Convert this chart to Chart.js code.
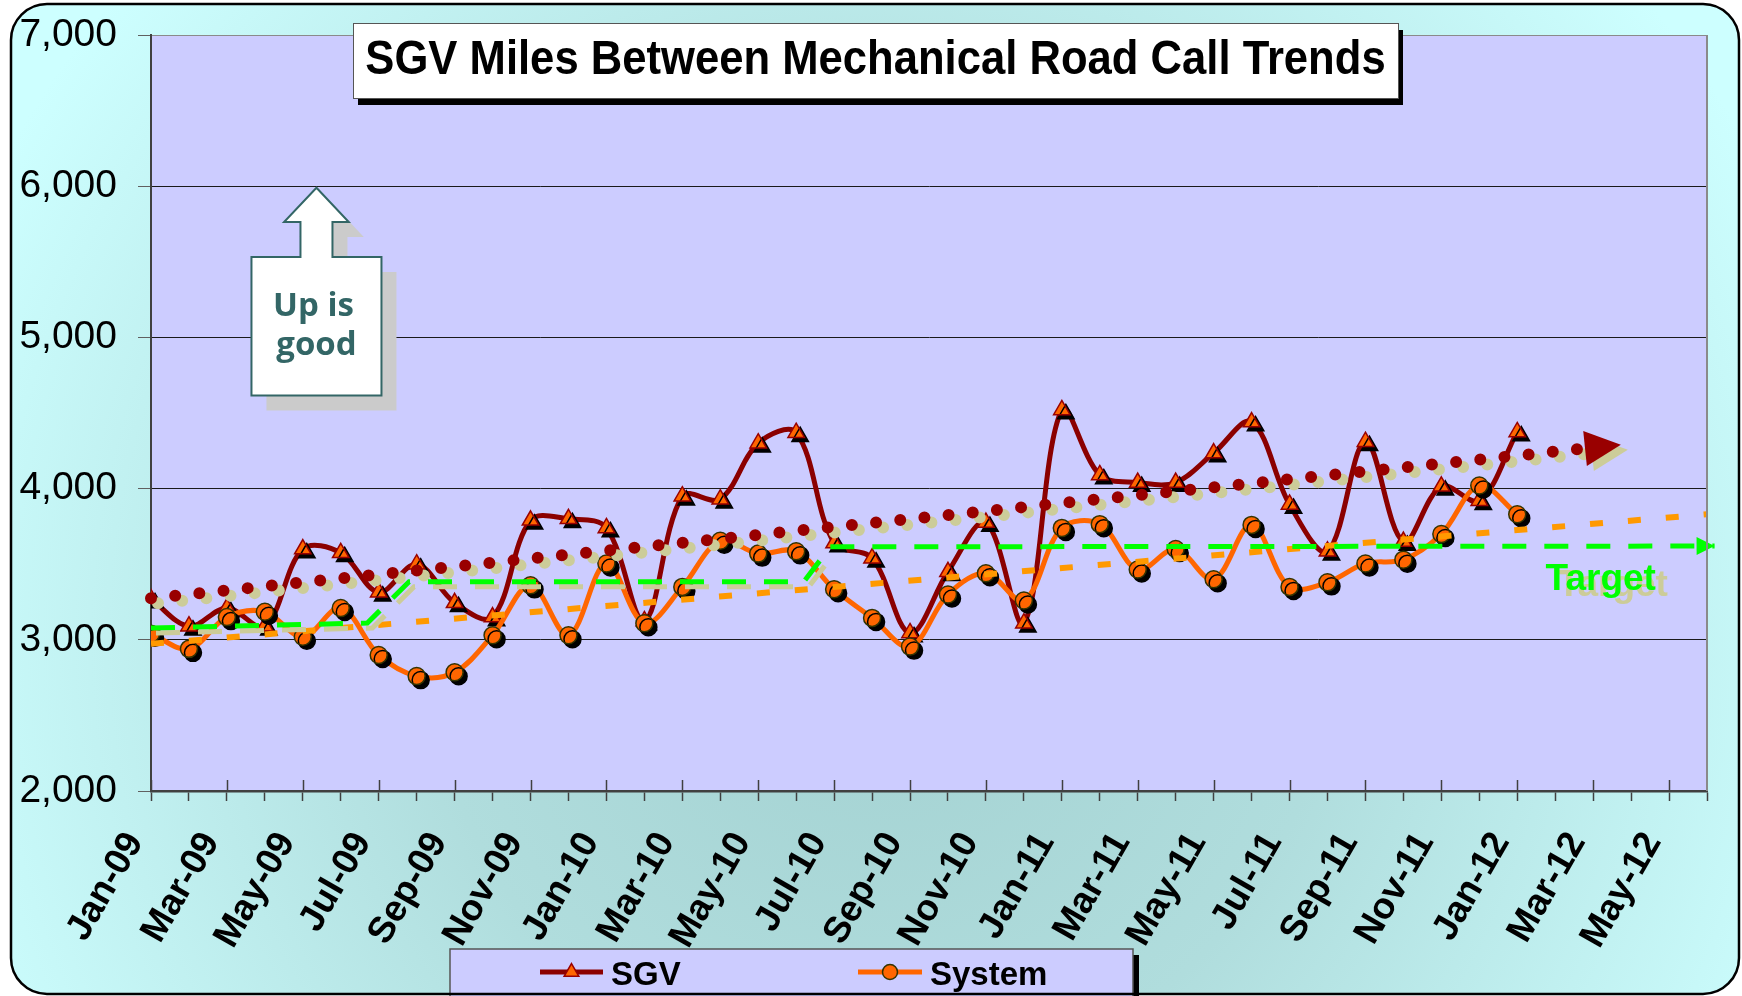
<!DOCTYPE html>
<html>
<head>
<meta charset="utf-8">
<title>SGV Miles Between Mechanical Road Call Trends</title>
<script src="https://cdn.jsdelivr.net/npm/chart.js@4.4.1/dist/chart.umd.min.js"></script>
<style>
html, body { margin: 0; padding: 0; background: #ffffff; }
#wrap { width: 1742px; height: 996px; }
</style>
</head>
<body>
<div id="wrap"><canvas id="lineChart" width="1742" height="996"></canvas></div>
<script>
// month categories on the x axis (one tick per month, label on every other one)
var months = ['Jan-09', 'Feb-09', 'Mar-09', 'Apr-09', 'May-09', 'Jun-09', 'Jul-09', 'Aug-09', 'Sep-09', 'Oct-09', 'Nov-09', 'Dec-09',
	'Jan-10', 'Feb-10', 'Mar-10', 'Apr-10', 'May-10', 'Jun-10', 'Jul-10', 'Aug-10', 'Sep-10', 'Oct-10', 'Nov-10', 'Dec-10',
	'Jan-11', 'Feb-11', 'Mar-11', 'Apr-11', 'May-11', 'Jun-11', 'Jul-11', 'Aug-11', 'Sep-11', 'Oct-11', 'Nov-11', 'Dec-11',
	'Jan-12', 'Feb-12', 'Mar-12', 'Apr-12', 'May-12', 'Jun-12'];

// monthly miles between mechanical road calls, Jan-09 .. Jan-12
var sgvValues = [3270, 3090, 3210, 3090, 3600, 3575, 3315, 3500, 3245, 3150, 3790, 3800,
	3740, 3125, 3950, 3930, 4300, 4370, 3640, 3540, 3045, 3450, 3775, 3110,
	4520, 4090, 4040, 4040, 4235, 4440, 3895, 3585, 4310, 3650, 4015, 3920,
	4375];
var systemValues = [3040, 2940, 3150, 3185, 3020, 3210, 2900, 2760, 2785, 3030, 3360, 3030,
	3505, 3110, 3350, 3655, 3570, 3585, 3335, 3145, 2955, 3300, 3440, 3260,
	3740, 3765, 3465, 3600, 3400, 3760, 3350, 3380, 3505, 3530, 3700, 4020,
	3830];

// trend lines (x = month index)
var sgvTrendX = [0, 38.73];
var sgvTrendY = [3275, 4290];
var systemTrendX = [0, 41];
var systemTrendY = [2973, 3830];

// target steps
var targetX = [0, 5.7, 6.8, 17.2, 17.9];
var targetY = [3078, 3111, 3384, 3384, 3615];
var targetEndX = [17.9, 41.2];
var targetEndY = [3615, 3620];

var yMin = 2000, yMax = 7000, yStep = 1000;

var FONT = '"Liberation Sans", Arial, Helvetica, sans-serif';
Chart.defaults.font.family = FONT;

function toPoints(xs, ys) {
	return ys.map(function(v, i) {
		return { x: xs ? xs[i] : i, y: v };
	});
}

function roundRectPath(c, x, y, w, h, r) {
	c.beginPath();
	c.moveTo(x + r, y);
	c.lineTo(x + w - r, y);
	c.arcTo(x + w, y, x + w, y + r, r);
	c.lineTo(x + w, y + h - r);
	c.arcTo(x + w, y + h, x + w - r, y + h, r);
	c.lineTo(x + r, y + h);
	c.arcTo(x, y + h, x, y + h - r, r);
	c.lineTo(x, y + r);
	c.arcTo(x, y, x + r, y, r);
	c.closePath();
}

// slide background + plot area fill
var bgPlugin = {
	id : 'slideBackground',
	beforeDraw : function(chart) {
		var c = chart.ctx, a = chart.chartArea;
		c.save();
		c.fillStyle = '#ffffff';
		c.fillRect(0, 0, chart.width, chart.height);
		var g = c.createRadialGradient(880, 640, 0, 880, 640, 1000);
		g.addColorStop(0, '#a3d1d1');
		g.addColorStop(0.45, '#b0dddd');
		g.addColorStop(1, '#cdffff');
		roundRectPath(c, 11, 4, 1728, 990, 36);
		c.fillStyle = g;
		c.fill();
		c.fillStyle = '#ccccff';
		c.fillRect(a.left, a.top, a.right - a.left, a.bottom - a.top);
		c.restore();
	}
};

// hard shadows and arrow heads for datasets that ask for them
var shadowPlugin = {
	id : 'shadows',
	beforeDatasetDraw : function(chart, args) {
		var ds = chart.data.datasets[args.index];
		if (!ds.shadow) return;
		var c = chart.ctx;
		c.save();
		c.shadowColor = ds.shadow.color;
		c.shadowOffsetX = ds.shadow.x;
		c.shadowOffsetY = ds.shadow.y;
		c.shadowBlur = 0;
	},
	afterDatasetDraw : function(chart, args) {
		var ds = chart.data.datasets[args.index];
		var c = chart.ctx;
		if (ds.arrow) {
			var pts = chart.getDatasetMeta(args.index).data;
			var p1 = pts[pts.length - 2], p2 = pts[pts.length - 1];
			var ang = Math.atan2(p2.y - p1.y, p2.x - p1.x);
			var L = ds.arrow.length, W = ds.arrow.width / 2;
			var bx = p2.x - L * Math.cos(ang), by = p2.y - L * Math.sin(ang);
			c.beginPath();
			c.moveTo(p2.x, p2.y);
			c.lineTo(bx - W * Math.sin(ang), by + W * Math.cos(ang));
			c.lineTo(bx + W * Math.sin(ang), by - W * Math.cos(ang));
			c.closePath();
			c.fillStyle = ds.borderColor;
			c.fill();
		}
		if (ds.shadow) c.restore();
	}
};

// title box, "Up is good" callout, Target label, legend, slide border
var decoPlugin = {
	id : 'decorations',
	afterDraw : function(chart) {
		var c = chart.ctx, a = chart.chartArea;
		var xs = chart.scales.x, ys = chart.scales.y;
		c.save();

		// plot right edge
		c.strokeStyle = '#8a8a8a';
		c.lineWidth = 2;
		c.beginPath();
		c.moveTo(a.right, a.top);
		c.lineTo(a.right, a.bottom);
		c.stroke();

		// labelled months get a tick that also rises above the axis
		c.strokeStyle = '#404040';
		c.lineWidth = 1.5;
		c.beginPath();
		for (var i = 0; i < months.length; i += 2) {
			var px = Math.round(xs.getPixelForValue(i)) + 0.5;
			c.moveTo(px, a.bottom - 11);
			c.lineTo(px, a.bottom);
		}
		c.stroke();

		// title box
		var tb = { x : 353, y : 23, w : 1045, h : 75 };
		c.fillStyle = '#000000';
		c.fillRect(tb.x + 5, tb.y + 7, tb.w, tb.h);
		c.fillStyle = '#ffffff';
		c.fillRect(tb.x, tb.y, tb.w, tb.h);
		c.strokeStyle = '#555555';
		c.lineWidth = 1;
		c.strokeRect(tb.x + 0.5, tb.y + 0.5, tb.w, tb.h);
		c.save();
		c.translate(tb.x + tb.w / 2, 74);
		c.scale(0.89, 1);
		c.fillStyle = '#000000';
		c.font = 'bold 49px ' + FONT;
		c.textAlign = 'center';
		c.textBaseline = 'alphabetic';
		c.fillText('SGV Miles Between Mechanical Road Call Trends', 0, 0);
		c.restore();

		// "Up is good" callout
		var tx = xs.getPixelForValue(4.36), ty = ys.getPixelForValue(5990);
		var shape = [[0, 0], [32.3, 34.4], [16, 34.4], [16, 69.4], [65, 69.4], [65, 207.7],
			[-65, 207.7], [-65, 69.4], [-16, 69.4], [-16, 34.4], [-32.4, 34.4]];
		function calloutPath(dx, dy) {
			c.beginPath();
			shape.forEach(function(p, i) {
				if (i === 0) c.moveTo(tx + p[0] + dx, ty + p[1] + dy);
				else c.lineTo(tx + p[0] + dx, ty + p[1] + dy);
			});
			c.closePath();
		}
		calloutPath(15, 15);
		c.fillStyle = '#cbcbcb';
		c.fill();
		calloutPath(0, 0);
		c.fillStyle = '#ffffff';
		c.fill();
		c.strokeStyle = '#336666';
		c.lineWidth = 2;
		c.stroke();
		c.fillStyle = '#336666';
		c.font = 'bold 33px "Open Sans", "DejaVu Sans", sans-serif';
		c.textAlign = 'center';
		c.fillText('Up is', tx - 3, ty + 128);
		c.fillText('good', tx, ty + 167);

		// Target label
		var lx = xs.getPixelForValue(38.2), ly = ys.getPixelForValue(3330);
		c.font = 'bold 37px ' + FONT;
		c.textAlign = 'center';
		c.fillStyle = '#cccc99';
		c.fillText('Target', lx + 12, ly + 6);
		c.fillStyle = '#00ff00';
		c.fillText('Target', lx, ly);

		// legend
		var lg = { x : 450, y : 949, w : 683, h : 50 };
		c.fillStyle = '#000000';
		c.fillRect(lg.x + lg.w, lg.y + 6, 6, lg.h);
		c.fillStyle = '#ccccff';
		c.fillRect(lg.x, lg.y, lg.w, lg.h);
		c.strokeStyle = '#555555';
		c.lineWidth = 1.5;
		c.strokeRect(lg.x, lg.y, lg.w, lg.h);
		var items = [
			{ line : chart.data.datasets[0], pts : chart.data.datasets[1], x0 : 540, x1 : 603, tx : 611 },
			{ line : chart.data.datasets[2], pts : chart.data.datasets[3], x0 : 858, x1 : 922, tx : 930 }
		];
		items.forEach(function(it) {
			var my = 972;
			c.strokeStyle = it.line.borderColor;
			c.lineWidth = 5;
			c.lineCap = 'butt';
			c.beginPath();
			c.moveTo(it.x0, my);
			c.lineTo(it.x1, my);
			c.stroke();
			c.fillStyle = it.pts.pointBackgroundColor;
			c.strokeStyle = it.pts.pointBorderColor;
			c.lineWidth = it.pts.pointBorderWidth;
			Chart.helpers.drawPoint(c, {
				pointStyle : it.pts.pointStyle,
				radius : it.pts.pointRadius - 1,
				borderWidth : it.pts.pointBorderWidth,
				rotation : 0
			}, (it.x0 + it.x1) / 2, my);
			c.fillStyle = '#000000';
			c.font = 'bold 33px ' + FONT;
			c.textAlign = 'left';
			c.fillText(it.line.label, it.tx, 985);
		});

		// slide border
		roundRectPath(c, 11, 4, 1728, 990, 36);
		c.strokeStyle = '#000000';
		c.lineWidth = 2.5;
		c.stroke();
		c.restore();
	}
};

var ctx = document.getElementById('lineChart');
var lineChart = new Chart(ctx, {
	type : 'line',
	data : {
		datasets : [ {
			label : 'SGV',
			data : toPoints(null, sgvValues),
			borderColor : '#8b0000',
			borderWidth : 5,
			tension : 0.35,
			pointRadius : 0,
			order : 6
		}, {
			label : 'SGV markers',
			data : toPoints(null, sgvValues),
			showLine : false,
			pointStyle : 'triangle',
			pointRadius : 9.5,
			pointBackgroundColor : '#ff6600',
			pointBorderColor : '#990000',
			pointBorderWidth : 1.5,
			shadow : { color : '#000000', x : 4, y : 4 },
			order : 5
		}, {
			label : 'System',
			data : toPoints(null, systemValues),
			borderColor : '#ff6600',
			borderWidth : 5,
			tension : 0.35,
			pointRadius : 0,
			order : 4
		}, {
			label : 'System markers',
			data : toPoints(null, systemValues),
			showLine : false,
			pointStyle : 'circle',
			pointRadius : 8.5,
			pointBackgroundColor : '#ff6600',
			pointBorderColor : '#333300',
			pointBorderWidth : 1.5,
			shadow : { color : '#000000', x : 4, y : 4 },
			order : 3
		}, {
			label : 'System trend',
			data : toPoints(systemTrendX, systemTrendY),
			borderColor : '#ff9900',
			borderWidth : 6,
			borderDash : [ 13, 25 ],
			pointRadius : 0,
			tension : 0,
			order : 2
		}, {
			label : 'SGV trend',
			data : toPoints(sgvTrendX, sgvTrendY),
			borderColor : '#990000',
			borderWidth : 12,
			borderDash : [ 0, 24.3 ],
			borderCapStyle : 'round',
			pointRadius : 0,
			tension : 0,
			clip : false,
			shadow : { color : '#cccc99', x : 7, y : 5 },
			arrow : { length : 36, width : 35 },
			order : 1
		}, {
			label : 'Target',
			data : toPoints(targetX, targetY),
			borderColor : '#00ff00',
			borderWidth : 5,
			borderDash : [ 24, 18 ],
			pointRadius : 0,
			tension : 0,
			shadow : { color : '#cccc99', x : 5, y : 5 },
			order : 0
		}, {
			label : 'Target end',
			data : toPoints(targetEndX, targetEndY),
			borderColor : '#00ff00',
			borderWidth : 5,
			borderDash : [ 24, 18 ],
			pointRadius : 0,
			tension : 0,
			clip : false,
			arrow : { length : 18, width : 18 },
			order : 0
		} ]
	},
	options : {
		responsive : false,
		devicePixelRatio : 1,
		animation : false,
		layout : {
			padding : { top : 35, right : 35, left : 0, bottom : 0 }
		},
		plugins : {
			legend : { display : false },
			title : { display : false },
			tooltip : { enabled : false }
		},
		scales : {
			x : {
				type : 'linear',
				min : 0,
				max : months.length - 1,
				afterFit : function(s) {
					s.height = 205;
					s.paddingLeft = 0;
					s.paddingRight = 0;
				},
				ticks : {
					stepSize : 1,
					autoSkip : false,
					minRotation : 60,
					maxRotation : 60,
					labelOffset : -16,
					padding : 24,
					color : '#000000',
					font : { size : 37, weight : 'bold' },
					callback : function(v) {
						return (v % 2 === 0) ? months[v] : '';
					}
				},
				grid : {
					drawOnChartArea : false,
					tickLength : 10,
					tickColor : '#404040',
					tickWidth : 1.5
				},
				border : { color : '#404040', width : 2.5 }
			},
			y : {
				min : yMin,
				max : yMax,
				afterFit : function(s) {
					s.width = 151;
					s.paddingTop = 0;
					s.paddingBottom = 0;
				},
				ticks : {
					stepSize : yStep,
					padding : 21,
					color : '#000000',
					font : { size : 39 },
					callback : function(v) {
						return v.toLocaleString('en-US');
					}
				},
				grid : {
					color : function(c) {
						return c.tick && c.tick.value === yMax ? '#8a8a8a' : '#1a1a1a';
					},
					lineWidth : 1,
					tickLength : 13,
					tickColor : '#606060'
				},
				border : { color : '#404040', width : 2 }
			}
		}
	},
	plugins : [ bgPlugin, shadowPlugin, decoPlugin ]
});
</script>
</body>
</html>
